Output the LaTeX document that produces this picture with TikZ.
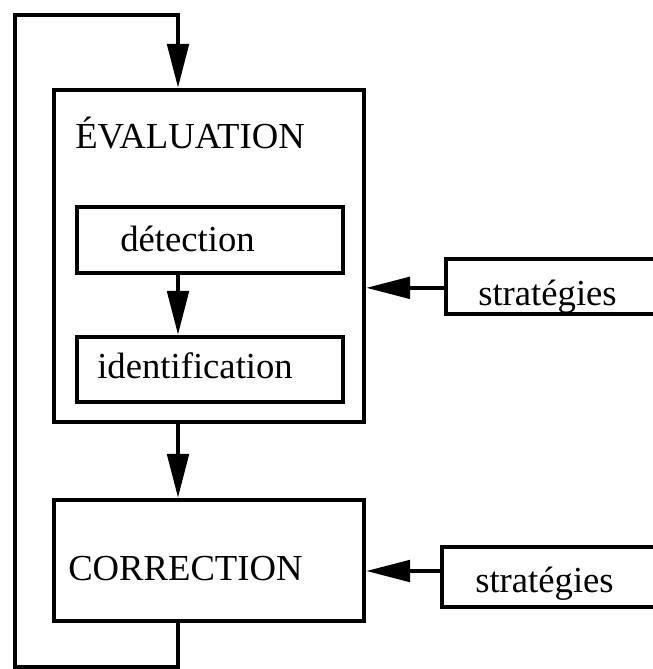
\documentclass[tikz,border=0pt]{standalone}
\usepackage{fontspec}
\setmainfont{Liberation Serif}
\usetikzlibrary{arrows.meta,fit}
\begin{document}
\begin{tikzpicture}[x=0.75pt,y=-0.75pt,
  box/.style={draw=black,line width=3.2pt,inner sep=0pt,rectangle},
  lbl/.style={inner sep=0pt,anchor=base west,font=\fontsize{27.5}{30}\selectfont},
  arr/.style={line width=3.2pt,line join=miter,-{Triangle[length=33pt,width=16pt]}}]
\useasboundingbox (0,0) rectangle (653,669);
% boxes
\node[box,fit={(54,90) (364,422)}] (eval) {};
\node[box,fit={(77,207) (343,273)}] (det) {};
\node[box,fit={(77,337) (343,402)}] (ident) {};
\node[box,fit={(54,500) (364,621)}] (corr) {};
\node[box,fit={(446,259) (700,314)}] (s1) {};
\node[box,fit={(442,547) (700,607)}] (s2) {};
% labels
\node[lbl] (evalt) at (75,148) {ÉVALUATION};
\node[lbl] (dett) at (120,251) {détection};
\node[lbl] (identt) at (97,378) {identification};
\node[lbl] (corrt) at (68,580) {CORRECTION};
\node[lbl] (s1t) at (478,305) {stratégies};
\node[lbl] (s2t) at (475,592) {stratégies};
% coordinates
\coordinate (ax) at (178,0);
\coordinate (bl) at (15,667);
\coordinate (tl) at (15,15);
% connectors
\draw[arr] (det.south -| ax) -- (ident.north -| ax);
\draw[arr] (eval.south -| ax) -- (corr.north -| ax);
\draw[arr] (corr.south -| ax) |- (bl) -- (tl) -| (eval.north -| ax);
\draw[arr] ([yshift=-1pt]s1.west) -- ([yshift=-1pt]s1.west -| eval.east);
\draw[arr] ([yshift=4.5pt]s2.west) -- ([yshift=4.5pt]s2.west -| corr.east);
\end{tikzpicture}
\end{document}
